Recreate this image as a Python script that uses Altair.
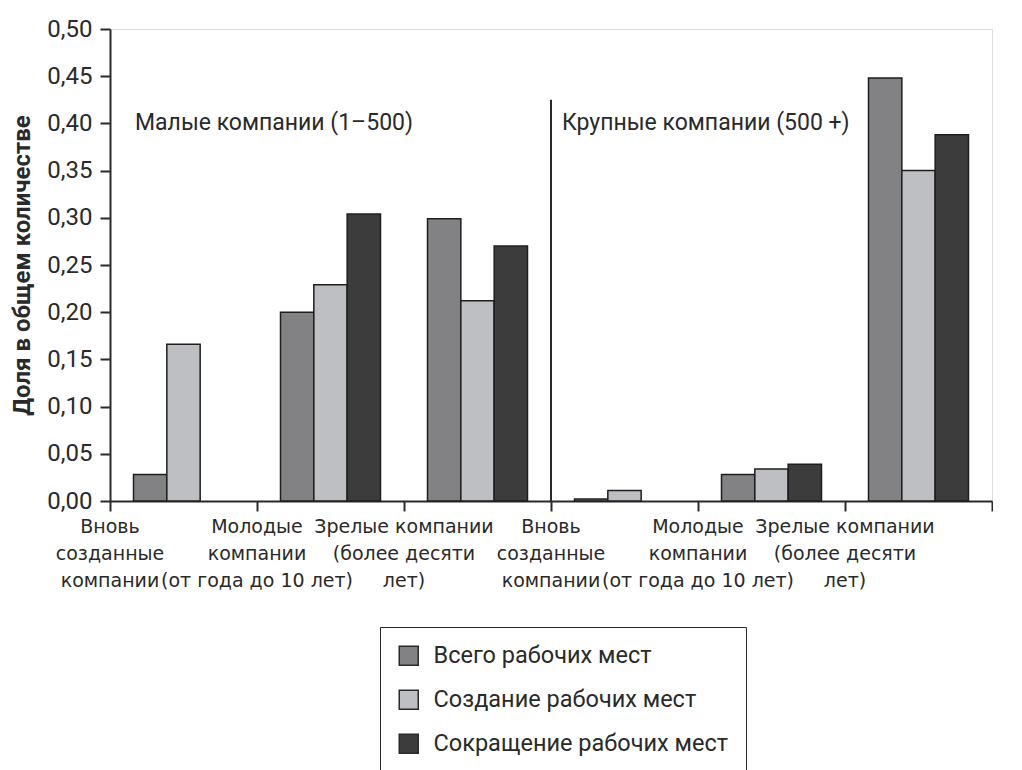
import altair as alt
import pandas as pd

groups = ["Малые компании (1–500)", "Крупные компании (500 +)"]
stages = [
    "Вновь\nсозданные\nкомпании",
    "Молодые\nкомпании\n(от года до 10 лет)",
    "Зрелые компании\n(более десяти\nлет)",
]
series = ["Всего рабочих мест", "Создание рабочих мест", "Сокращение рабочих мест"]

total = [0.028, 0.200, 0.299, 0.002, 0.028, 0.448]
creation = [0.166, 0.229, 0.212, 0.011, 0.034, 0.350]
reduction = [None, 0.304, 0.270, None, 0.039, 0.388]

y_ticks = [0.0, 0.05, 0.10, 0.15, 0.20, 0.25, 0.30, 0.35, 0.40, 0.45, 0.50]
divider_top = 0.425
annotation_y = 0.40

colors = ["#828284", "#bebfc3", "#3c3c3c"]
ink = "#2a2a2a"

keys = [f"{g}|{s}" for g in groups for s in stages]
rows = []
for vals, name in zip([total, creation, reduction], series):
    for k, v in zip(keys, vals):
        rows.append({"cat": k, "series": name, "value": v})
df = pd.DataFrame(rows)

W, H = 882, 472
step = W / len(keys)

x_enc = alt.X(
    "cat:N",
    sort=keys,
    title=None,
    scale=alt.Scale(domain=keys, paddingInner=0, paddingOuter=0),
    axis=alt.Axis(
        bandPosition=1,
        tickExtra=True,
        labelOffset=-step / 2,
        labelExpr="indexof(datum.label + '', '|') < 0 ? '' : split(split(datum.label, '|')[1], '\\n')",
        labelAngle=0,
        labelAlign="center",
        labelBaseline="top",
        labelFont="DejaVu Sans",
        labelFontSize=19,
        labelLineHeight=27,
        labelPadding=6,
        labelLimit=400,
        labelOverlap=False,
        labelColor=ink,
        tickSize=10,
        tickColor=ink,
        tickWidth=2,
        domainColor=ink,
        domainWidth=2,
    ),
)

bars = alt.Chart(df).mark_bar(stroke="#1e1e1e", strokeWidth=1.5).encode(
    x=x_enc,
    xOffset=alt.XOffset(
        "series:N", sort=series,
        scale=alt.Scale(domain=series, paddingInner=0, paddingOuter=0.705),
    ),
    y=alt.Y(
        "value:Q",
        scale=alt.Scale(domain=[0, 0.5], nice=False),
        axis=alt.Axis(
            values=y_ticks,
            labelExpr="replace(format(datum.value, '.2f'), '.', ',')",
            title="Доля в общем количестве",
            titleFont="Roboto",
            titleFontWeight="bold",
            titleFontSize=24,
            titleColor=ink,
            titlePadding=12,
            grid=False,
            labelFont="Roboto",
            labelFontSize=24,
            labelColor=ink,
            labelPadding=8,
            tickSize=10,
            tickColor=ink,
            tickWidth=2,
            domainColor=ink,
            domainWidth=2,
        ),
    ),
    color=alt.Color(
        "series:N",
        sort=series,
        scale=alt.Scale(domain=series, range=colors),
        legend=alt.Legend(
            title=None,
            orient="none",
            legendX=270,
            legendY=598,
            direction="vertical",
            strokeColor=ink,
            fillColor="white",
            padding=17,
            symbolType="square",
            symbolSize=361,
            symbolStrokeColor=ink,
            symbolStrokeWidth=1.5,
            labelFont="Roboto",
            labelFontSize=23.5,
            labelColor=ink,
            labelOffset=13,
            labelLimit=500,
            rowPadding=18,
        ),
    ),
)

div_df = pd.DataFrame({"cat": [keys[3]], "top": [divider_top], "bottom": [0.0]})
divider = alt.Chart(div_df).mark_rule(color=ink, strokeWidth=2).encode(
    x=alt.X("cat:N", sort=keys, bandPosition=0, title=None),
    y=alt.Y("top:Q"),
    y2="bottom:Q",
)

ann_small = alt.Chart(pd.DataFrame({"cat": [keys[0]], "label": [groups[0]], "y": [annotation_y]})).mark_text(
    align="left", baseline="middle", dx=25, font="Roboto", fontSize=23, color=ink
).encode(
    x=alt.X("cat:N", sort=keys, bandPosition=0, title=None),
    y=alt.Y("y:Q"),
    text="label:N",
)
ann_large = alt.Chart(pd.DataFrame({"cat": [keys[3]], "label": [groups[1]], "y": [annotation_y]})).mark_text(
    align="left", baseline="middle", dx=11, font="Roboto", fontSize=23, color=ink
).encode(
    x=alt.X("cat:N", sort=keys, bandPosition=0, title=None),
    y=alt.Y("y:Q"),
    text="label:N",
)

chart = alt.layer(bars, divider, ann_small, ann_large).properties(
    width=W,
    height=H,
    padding={"left": 2, "top": 9, "right": 0, "bottom": 0},
).configure_view(stroke=ink, strokeWidth=2).configure(background="white")

chart.save("out.html", embed_options={"renderer": "svg", "actions": False})
